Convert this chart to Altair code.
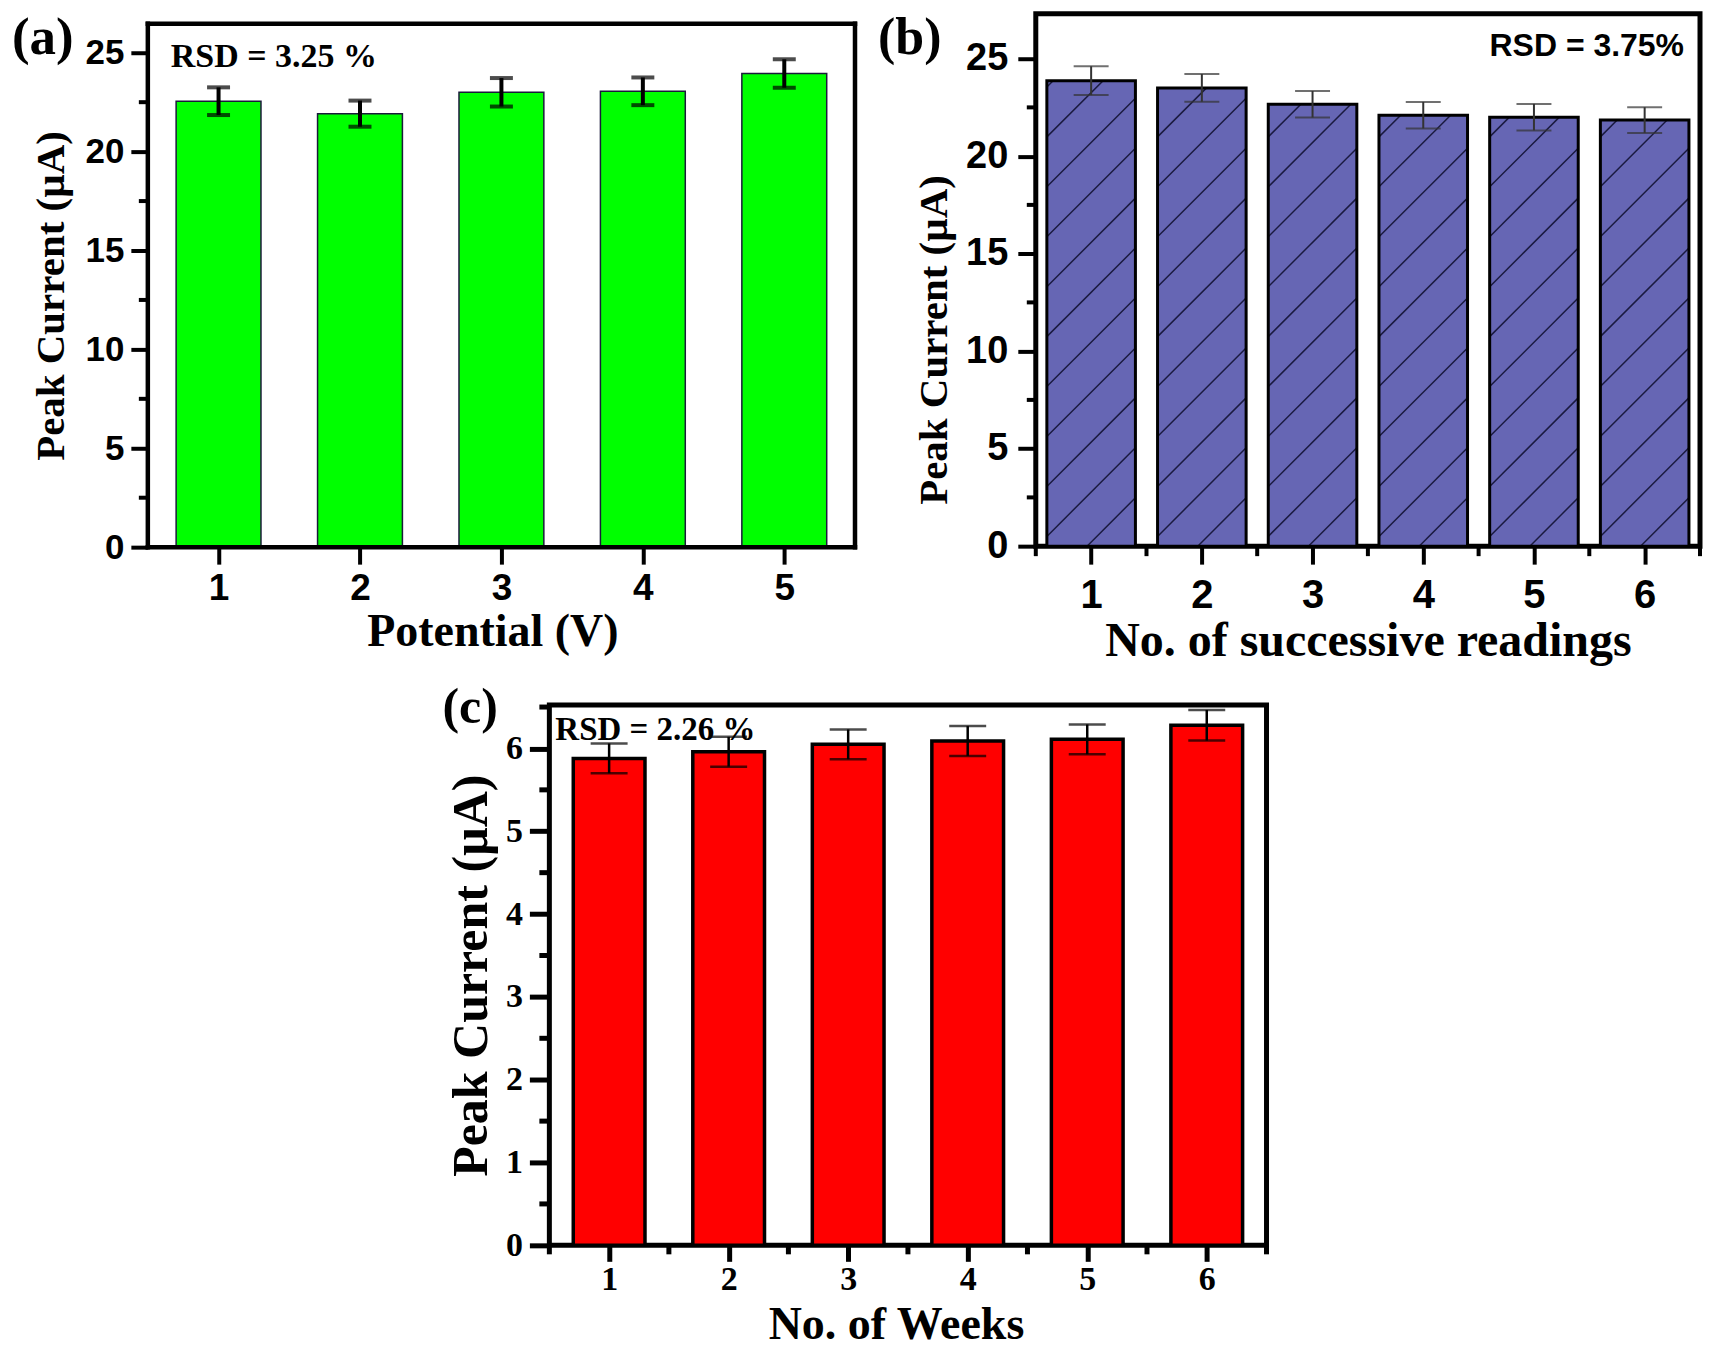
import altair as alt
import pandas as pd

# ---------------- data ----------------
a_x = [1, 2, 3, 4, 5]
a_y = [22.55, 21.92, 23.00, 23.05, 23.95]
a_err = [0.70, 0.66, 0.72, 0.70, 0.72]

b_x = [1, 2, 3, 4, 5, 6]
b_y = [23.87, 23.50, 22.66, 22.10, 22.00, 21.85]
b_err = [0.74, 0.71, 0.68, 0.68, 0.68, 0.66]

c_x = [1, 2, 3, 4, 5, 6]
c_y = [5.88, 5.96, 6.05, 6.09, 6.11, 6.28]
c_err = [0.18, 0.18, 0.18, 0.18, 0.18, 0.185]

ab_yticks = [0, 5, 10, 15, 20, 25]
ab_yminor = [2.5, 7.5, 12.5, 17.5, 22.5]
c_yticks = [0, 1, 2, 3, 4, 5, 6]
c_yminor = [0.5, 1.5, 2.5, 3.5, 4.5, 5.5, 6.5]
bc_xminor = [0.5, 1.5, 2.5, 3.5, 4.5, 5.5, 6.5]

a_xticks = [1, 2, 3, 4, 5]
bc_xticks = [1, 2, 3, 4, 5, 6]

SERIF = "Liberation Serif"
SANS = "Liberation Sans"

one = pd.DataFrame({"k": [0]})


def base_df(xs, ys, es):
    return pd.DataFrame({"x": xs, "y": ys, "e": es})


def axis(title, values, lab_font, lab_size, lab_pad, tick_len, title_size, title_pad,
         tick_w=4, title_x=None, title_y=None):
    kw = dict(title=title, values=values, format="d", domain=False, grid=False,
              tickSize=tick_len, tickWidth=tick_w, tickColor="black",
              labelFont=lab_font, labelFontSize=lab_size, labelFontWeight="bold",
              labelColor="black", labelPadding=lab_pad, labelFlush=False, labelOverlap=False,
              titleFont=SERIF, titleFontSize=title_size, titleFontWeight="bold",
              titleColor="black", titlePadding=title_pad)
    if title_x is not None:
        kw["titleX"] = title_x
    if title_y is not None:
        kw["titleY"] = title_y
    return alt.Axis(**kw)


def text_layer(txt, font, size, x, y, align="left"):
    return alt.Chart(one).mark_text(text=txt, font=font, fontSize=size, fontWeight="bold",
                                    align=align, baseline="alphabetic", color="black").encode(
        x=alt.value(x), y=alt.value(y))


# ---------------- panel (a) ----------------
WA, HA = 708, 534
A_TOP = 10  # frame top inside the plot area (px)
xs_a = alt.Scale(domain=[0.5, 5.5], nice=False, zero=False)
ys_a = alt.Scale(domain=[0, HA / 19.8], nice=False)
XT_A = "Potential (V)"
YT_A = "Peak Current (\u00b5A)"

da = alt.Chart(base_df(a_x, a_y, a_err)).transform_calculate(
    x0="datum.x - 0.3", x1="datum.x + 0.3", lo="datum.y - datum.e", hi="datum.y + datum.e")

a_bars = da.mark_bar(fill="#00ff00", stroke="#1a1a3a", strokeWidth=1.5).encode(
    x=alt.X("x0:Q", scale=xs_a, title=XT_A,
            axis=axis(XT_A, a_xticks, SANS, 37, 6, 17, 46, 3, title_x=345)),
    x2="x1:Q",
    y=alt.Y("y:Q", scale=ys_a, title=YT_A,
            axis=axis(YT_A, ab_yticks, SANS, 35, 7, 17, 41, 13, title_y=282)),
    y2=alt.datum(0))
a_err_r = da.mark_rule(color="black", strokeWidth=4).encode(
    x=alt.X("x:Q", scale=xs_a, title=XT_A), y=alt.Y("lo:Q", scale=ys_a, title=YT_A), y2="hi:Q")
a_cap_hi = da.mark_tick(orient="horizontal", size=23, thickness=4, color="black").encode(
    x=alt.X("x:Q", scale=xs_a, title=XT_A), y=alt.Y("hi:Q", scale=ys_a, title=YT_A))
a_cap_lo = da.mark_tick(orient="horizontal", size=23, thickness=4, color="black").encode(
    x=alt.X("x:Q", scale=xs_a, title=XT_A), y=alt.Y("lo:Q", scale=ys_a, title=YT_A))
a_minor = alt.Chart(pd.DataFrame({"v": ab_yminor})).mark_rule(color="black", strokeWidth=4).encode(
    y=alt.Y("v:Q", scale=ys_a, title=YT_A), x=alt.value(-9), x2=alt.value(0))
fr = dict(color="black", strokeWidth=4.5, strokeCap="square")
a_f1 = alt.Chart(one).mark_rule(**fr).encode(x=alt.value(0), x2=alt.value(WA), y=alt.value(A_TOP))
a_f2 = alt.Chart(one).mark_rule(**fr).encode(x=alt.value(0), x2=alt.value(WA), y=alt.value(HA))
a_f3 = alt.Chart(one).mark_rule(**fr).encode(x=alt.value(0), y=alt.value(A_TOP), y2=alt.value(HA))
a_f4 = alt.Chart(one).mark_rule(**fr).encode(x=alt.value(WA), y=alt.value(A_TOP), y2=alt.value(HA))
# invisible anchor that fixes the left edge of the whole picture
a_anchor = alt.Chart(one).mark_point(opacity=0, size=1).encode(x=alt.value(-139), y=alt.value(300))
a_lab = text_layer("(a)", SERIF, 53, -136, 40)
a_rsd = text_layer("RSD = 3.25 %", SERIF, 34, 23, 53)

A = alt.layer(a_bars, a_err_r, a_cap_hi, a_cap_lo, a_minor, a_f1, a_f2, a_f3, a_f4,
              a_anchor, a_lab, a_rsd).properties(width=WA, height=HA)

# ---------------- panel (b) ----------------
WB, HB = 665, 533
YMAX_B = 27.3
xs_b = alt.Scale(domain=[0.5, 6.5], nice=False, zero=False)
ys_b = alt.Scale(domain=[0, YMAX_B], nice=False)
XT_B = "No. of successive readings"
YT_B = "Peak Current (\u00b5A)"
HALF_B = 0.4

db = alt.Chart(base_df(b_x, b_y, b_err)).transform_calculate(
    x0="datum.x - 0.4", x1="datum.x + 0.4", lo="datum.y - datum.e", hi="datum.y + datum.e")

# diagonal hatch segments clipped to each bar (45 degrees on screen)
kx = WB / 6.0
ky = HB / YMAX_B
slope = kx / ky          # data-y per data-x for a 45 degree line
step = 50.0 / ky         # vertical spacing of hatch lines (data units)
phase = 0.5
rows = []
for xc, v in zip(b_x, b_y):
    xl, xr = xc - HALF_B, xc + HALF_B
    for j in range(-12, 30):
        y0 = phase + j * step
        xa = max(xl, xl + (0 - y0) / slope)
        xb = min(xr, xl + (v - y0) / slope)
        if xb > xa + 1e-6:
            rows.append({"hx": xa, "hy": y0 + slope * (xa - xl),
                         "hx2": xb, "hy2": y0 + slope * (xb - xl)})
hatch_df = pd.DataFrame(rows)

b_fill = db.mark_bar(fill="#6666b4", strokeWidth=0).encode(
    x=alt.X("x0:Q", scale=xs_b, title=XT_B,
            axis=axis(XT_B, bc_xticks, SANS, 40, 11, 18, 48, 2)),
    x2="x1:Q",
    y=alt.Y("y:Q", scale=ys_b, title=YT_B,
            axis=axis(YT_B, ab_yticks, SANS, 38, 10, 18, 41, 10, title_y=326)),
    y2=alt.datum(0))
b_hatch = alt.Chart(hatch_df).mark_rule(color="#1a1a40", strokeWidth=1.5).encode(
    x=alt.X("hx:Q", scale=xs_b, title=XT_B), x2="hx2:Q",
    y=alt.Y("hy:Q", scale=ys_b, title=YT_B), y2="hy2:Q")
b_out = db.mark_bar(fillOpacity=0, stroke="black", strokeWidth=3).encode(
    x=alt.X("x0:Q", scale=xs_b, title=XT_B), x2="x1:Q",
    y=alt.Y("y:Q", scale=ys_b, title=YT_B), y2=alt.datum(0))
b_err_r = db.mark_rule(color="#333333", strokeWidth=2).encode(
    x=alt.X("x:Q", scale=xs_b, title=XT_B), y=alt.Y("lo:Q", scale=ys_b, title=YT_B), y2="hi:Q")
b_cap_hi = db.mark_tick(orient="horizontal", size=35, thickness=2, color="#333333").encode(
    x=alt.X("x:Q", scale=xs_b, title=XT_B), y=alt.Y("hi:Q", scale=ys_b, title=YT_B))
b_cap_lo = db.mark_tick(orient="horizontal", size=35, thickness=2, color="#333333").encode(
    x=alt.X("x:Q", scale=xs_b, title=XT_B), y=alt.Y("lo:Q", scale=ys_b, title=YT_B))
b_yminor = alt.Chart(pd.DataFrame({"v": ab_yminor})).mark_rule(color="black", strokeWidth=4).encode(
    y=alt.Y("v:Q", scale=ys_b, title=YT_B), x=alt.value(-9), x2=alt.value(0))
b_xminor = alt.Chart(pd.DataFrame({"v": bc_xminor})).mark_rule(color="black", strokeWidth=4).encode(
    x=alt.X("v:Q", scale=xs_b, title=XT_B), y=alt.value(HB), y2=alt.value(HB + 10))
b_lab = text_layer("(b)", SERIF, 52, -158, 40)
b_rsd = text_layer("RSD = 3.75%", SANS, 32, 649, 42, align="right")

B = alt.layer(b_fill, b_hatch, b_out, b_err_r, b_cap_hi, b_cap_lo, b_yminor, b_xminor,
              b_lab, b_rsd).properties(
    width=WB, height=HB, view=alt.ViewBackground(stroke="black", strokeWidth=5))

# ---------------- panel (c) ----------------
WC, HC = 718, 541
xs_c = alt.Scale(domain=[0.5, 6.5], nice=False, zero=False)
ys_c = alt.Scale(domain=[0, 6.525], nice=False)
XT_C = "No. of Weeks"
YT_C = "Peak Current (\u00b5A)"

dc = alt.Chart(base_df(c_x, c_y, c_err)).transform_calculate(
    x0="datum.x - 0.3", x1="datum.x + 0.3", lo="datum.y - datum.e", hi="datum.y + datum.e")

c_bars = dc.mark_bar(fill="#ff0000", stroke="black", strokeWidth=3.5).encode(
    x=alt.X("x0:Q", scale=xs_c, title=XT_C,
            axis=axis(XT_C, bc_xticks, SERIF, 34, 1, 16, 46, 6, tick_w=5, title_x=347)),
    x2="x1:Q",
    y=alt.Y("y:Q", scale=ys_c, title=YT_C,
            axis=axis(YT_C, c_yticks, SERIF, 34, 7, 20, 50, 9, tick_w=5)),
    y2=alt.datum(0))
c_err_r = dc.mark_rule(color="black", strokeWidth=2.5).encode(
    x=alt.X("x:Q", scale=xs_c, title=XT_C), y=alt.Y("lo:Q", scale=ys_c, title=YT_C), y2="hi:Q")
c_cap_hi = dc.mark_tick(orient="horizontal", size=37, thickness=2.5, color="black").encode(
    x=alt.X("x:Q", scale=xs_c, title=XT_C), y=alt.Y("hi:Q", scale=ys_c, title=YT_C))
c_cap_lo = dc.mark_tick(orient="horizontal", size=37, thickness=2.5, color="black").encode(
    x=alt.X("x:Q", scale=xs_c, title=XT_C), y=alt.Y("lo:Q", scale=ys_c, title=YT_C))
c_yminor = alt.Chart(pd.DataFrame({"v": c_yminor})).mark_rule(color="black", strokeWidth=5).encode(
    y=alt.Y("v:Q", scale=ys_c, title=YT_C), x=alt.value(-10), x2=alt.value(0))
c_xminor = alt.Chart(pd.DataFrame({"v": bc_xminor})).mark_rule(color="black", strokeWidth=5).encode(
    x=alt.X("v:Q", scale=xs_c, title=XT_C), y=alt.value(HC), y2=alt.value(HC + 9))
c_lab = text_layer("(c)", SERIF, 50, -107, 18)
c_rsd = text_layer("RSD = 2.26 %", SERIF, 33, 6, 35)

C = alt.layer(c_bars, c_err_r, c_cap_hi, c_cap_lo, c_yminor, c_xminor, c_lab, c_rsd).properties(
    width=WC, height=HC, view=alt.ViewBackground(stroke="black", strokeWidth=5))

# ---------------- layout ----------------
spacer = alt.Chart(one).mark_point(opacity=0).encode(
    x=alt.value(0), y=alt.value(0)).properties(width=402, height=10)

row1 = alt.hconcat(A, B, spacing=181, bounds="flush")
row2 = alt.hconcat(spacer, C, spacing=0, bounds="flush")
chart = alt.vconcat(row1, row2, spacing=692, bounds="flush").properties(
    padding=0, background="white").configure_view(stroke="transparent")

chart.save("out.html", embed_options={"renderer": "svg", "actions": False})
